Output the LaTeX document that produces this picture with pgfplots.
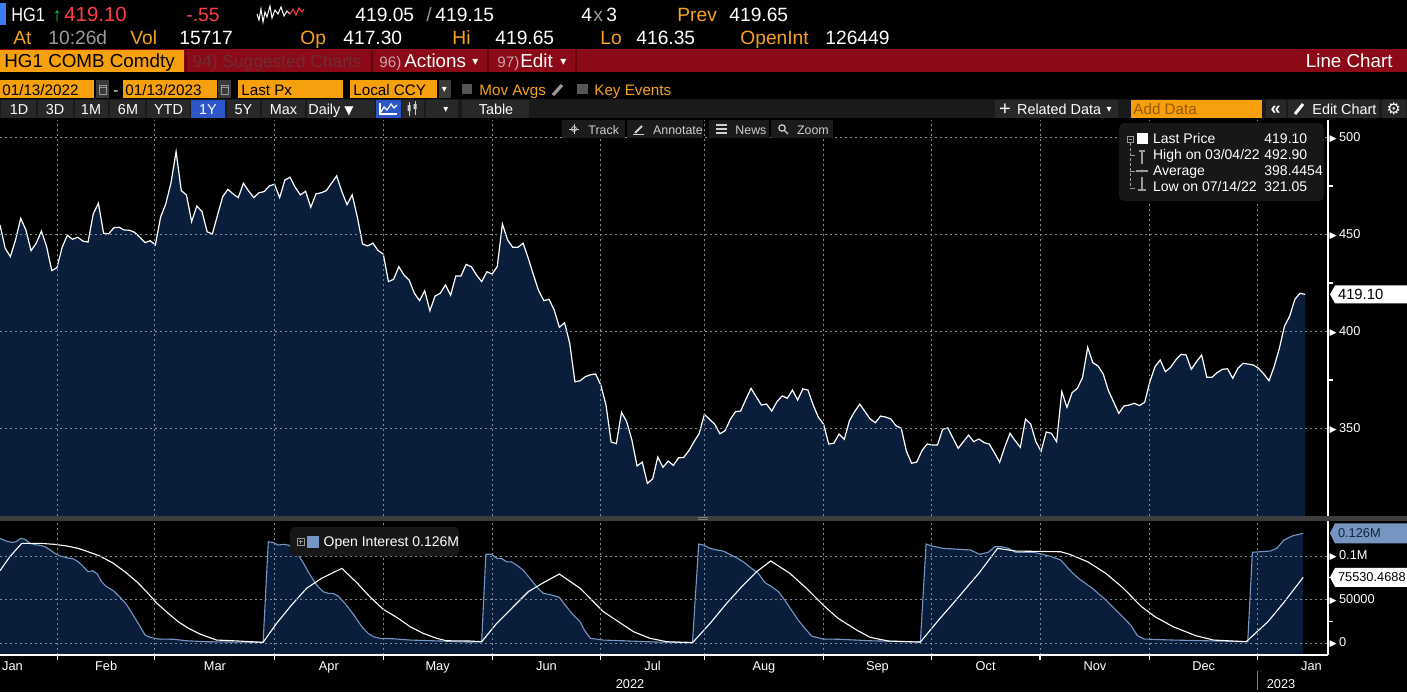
\documentclass[border=0pt]{standalone}
\usepackage{fontspec}
\setmainfont{Liberation Sans}
\newfontfamily\dejavu{DejaVu Sans}
\usepackage{pgfplots}
\pgfplotsset{compat=1.18}
\usepackage{pgfplotstable}

\definecolor{bbora}{HTML}{F5A31A}
\definecolor{bbbox}{HTML}{F5A00C}
\definecolor{bbred}{HTML}{8C0A18}
\definecolor{bbrtxt}{HTML}{FF3D48}
\definecolor{bbgrn}{HTML}{22CC44}
\definecolor{bbgray}{HTML}{9A9A9A}
\definecolor{bbblue}{HTML}{3D7BF0}
\definecolor{navyfill}{HTML}{0A1E3B}
\definecolor{oiline}{HTML}{7695C0}
\definecolor{gridc}{HTML}{7F8C9A}
\definecolor{barbg}{HTML}{1A1A1A}
\definecolor{btnbg}{HTML}{282828}
\definecolor{selblue}{HTML}{2F56C9}
\definecolor{legbg}{HTML}{171717}
\definecolor{sepc}{HTML}{3E3E3E}
\definecolor{dimred}{HTML}{6E2C35}
\definecolor{pinkgray}{HTML}{C9A3A8}
\definecolor{adddata}{HTML}{9A5A00}
\definecolor{oitagtxt}{HTML}{0E2340}
\definecolor{sepdark}{HTML}{62060F}
\definecolor{iconbg}{HTML}{3A3A3A}
\definecolor{chk}{HTML}{555555}
\definecolor{tbbg}{HTML}{1B1B1B}
\definecolor{tbtxt}{HTML}{CFCFCF}
\definecolor{lgicon}{HTML}{9A9A9A}

\newcommand\fA{\fontsize{9.6}{11}\selectfont}
\newcommand\fB{\fontsize{9.4}{11}\selectfont}
\newcommand\fC{\fontsize{7.6}{9}\selectfont}
\newcommand\fD{\fontsize{7.2}{8}\selectfont}
\newcommand\fE{\fontsize{6.4}{7}\selectfont}
\newcommand\fL{\fontsize{7}{8}\selectfont}
\newcommand\fT{\fontsize{6.2}{7}\selectfont}
\newcommand\tri{{\dejavu\fontsize{4.6}{5}\selectfont ▶}\kern1.2pt}
\newcommand{\tx}[5][base west]{\node[anchor=#1,inner sep=0pt,text=#2,font=#3] at (#4) {#5};}
% value tag with a pointed left side, drawn at a named coordinate
\newcommand{\tag}[6][\fE]{%
  \fill[#3] ([xshift=1pt]#2) -- ([xshift=3.5pt,yshift=#4]#2) -- ([xshift=40pt,yshift=#4]#2)
    -- ([xshift=40pt,yshift=-#4]#2) -- ([xshift=3.5pt,yshift=-#4]#2) -- cycle;
  \node[anchor=west, inner sep=0pt, font=#1, text=#5] at ([xshift=4.8pt]#2) {#6};}

% HG1 last price, trading day index
\pgfplotstableread{
d p
0 454.9
1 442.9
2 438.6
3 447.2
4 458.3
5 452.3
6 441.7
7 445.5
8 451.8
9 443.7
10 431.4
11 432.9
12 443.4
13 449.6
14 447.5
15 448.6
16 446.6
17 446.1
18 460.6
19 466.1
20 450.6
21 450.4
22 453.5
23 453.7
24 452.3
25 452.2
26 451.1
27 448.6
28 445.8
29 446.8
30 444.6
31 458.9
32 465.7
33 476.4
34 492.7
35 472.6
36 470.4
37 456.6
38 464.7
39 461.8
40 451.4
41 450.3
42 460.0
43 469.5
44 473.3
45 470.9
46 469.0
47 476.4
48 472.4
49 469.0
50 471.5
51 472.1
52 475.0
53 475.9
54 469.0
55 478.1
56 479.5
57 474.3
58 470.4
59 472.3
60 464.0
61 470.9
62 471.5
63 472.6
64 476.4
65 480.2
66 472.1
67 465.4
68 470.4
69 458.9
70 445.1
71 444.1
72 445.5
73 441.7
74 439.9
75 425.7
76 426.9
77 433.4
78 429.1
79 426.5
80 419.7
81 415.9
82 421.0
83 410.7
84 418.3
85 419.7
86 424.0
87 418.7
88 428.6
89 428.6
90 434.6
91 433.4
92 429.1
93 425.7
94 430.8
95 429.6
96 433.4
97 455.4
98 447.2
99 443.4
100 443.4
101 445.5
102 437.7
103 429.1
104 421.0
105 415.9
106 416.6
107 411.1
108 402.2
109 404.5
110 393.9
111 374.1
112 374.6
113 376.7
114 377.7
115 378.1
116 372.4
117 362.1
118 343.0
119 342.2
120 358.4
121 353.5
122 344.1
123 330.7
124 332.7
125 321.7
126 324.0
127 335.3
128 330.0
129 333.2
130 331.0
131 334.9
132 335.1
133 338.6
134 343.2
135 347.5
136 357.3
137 354.7
138 352.2
139 347.3
140 348.9
141 354.7
142 358.7
143 359.0
144 365.0
145 370.7
146 366.4
147 362.1
148 362.6
149 359.0
150 363.8
151 366.8
152 365.6
153 369.8
154 364.7
155 370.4
156 369.8
157 362.1
158 355.8
159 352.3
160 342.0
161 342.4
162 347.2
163 344.4
164 354.0
165 358.7
166 362.6
167 358.7
168 354.9
169 353.0
170 356.4
171 355.9
172 354.9
173 351.4
174 350.1
175 338.3
176 332.1
177 332.7
178 338.6
179 342.0
180 341.5
181 341.5
182 349.6
183 350.3
184 345.0
185 339.8
186 343.2
187 346.6
188 343.2
189 344.6
190 342.7
191 342.0
192 337.5
193 332.6
194 340.6
195 347.5
196 343.7
197 340.3
198 354.9
199 352.3
200 343.2
201 338.3
202 348.2
203 347.5
204 343.2
205 369.0
206 360.9
207 368.5
208 370.7
209 376.2
210 391.8
211 383.9
212 382.2
213 378.1
214 369.5
215 363.8
216 357.8
217 361.6
218 362.1
219 363.0
220 361.8
221 363.5
222 374.1
223 381.9
224 385.3
225 379.3
226 381.5
227 385.3
228 388.2
229 387.9
230 380.5
231 384.4
232 387.9
233 376.4
234 376.4
235 378.8
236 380.5
237 380.8
238 375.9
239 381.0
240 383.6
241 383.2
242 382.7
243 381.0
244 378.1
245 374.6
246 381.9
247 391.3
248 402.8
249 407.9
250 416.6
251 419.7
252 419.1
}\pricedata

% open interest
\pgfplotstableread{
d oi
0 120300
1.0 117600
2.3 115700
3.1 116400
4.0 120300
4.8 119200
5.8 114600
6.8 113000
7.7 112300
8.7 110700
9.7 106900
10.6 103100
11.6 100000
12.9 98000
14.2 96600
15.1 93400
16.1 87700
17.0 82000
17.9 83100
18.8 79300
19.6 70500
20.6 64700
21.9 60100
23.2 52500
24.5 43700
25.7 32200
27.0 19500
28.0 9200
29.0 6500
30.6 4600
33.5 4300
36.0 2600
39.9 1500
45.0 1100
50.8 800
51.8 116400
52.8 115300
53.7 112600
54.7 113400
55.7 112600
56.6 108800
57.6 101100
58.6 91600
59.5 82000
60.5 72400
61.4 64700
62.4 59000
63.4 57100
64.3 57100
65.3 54000
66.3 47500
67.2 41000
68.2 33300
69.2 24500
70.1 16900
71.1 11100
72.1 7200
73.4 5400
75.9 4900
79.2 3400
83.6 2600
90.7 1100
93.0 1500
93.8 102000
94.9 102000
95.9 97400
96.9 96900
97.8 93400
98.8 93100
99.7 89700
101.0 83900
102.3 74400
103.6 64700
104.9 57100
106.5 55200
108.0 52500
109.1 43700
110.4 34100
112.0 24500
112.9 14100
114.0 5400
116.5 3400
120.3 2600
126.8 1100
133.7 800
134.9 113800
135.8 112600
137.1 108800
138.4 106900
139.6 105700
140.9 102000
142.2 98000
143.5 93400
145.1 85800
146.4 80100
147.7 69300
149.0 64700
150.3 59000
151.5 49400
152.8 37900
154.1 26400
155.4 16900
156.7 8000
158.9 4600
162.2 4300
168.0 2600
177.7 1100
178.8 113800
179.9 111500
182.1 108800
187.4 106900
189.1 102000
190.8 104300
192.1 110700
193.4 110700
194.7 108800
196.1 104300
199.5 104300
201.3 102000
203.0 99200
204.8 95400
206.5 83900
208.2 74400
210.9 62900
213.5 49400
216.1 34100
218.3 20700
219.6 8400
220.9 4600
226.5 3400
235.2 2300
240.9 1500
241.8 104300
245.2 105700
246.5 108800
247.9 118400
249.6 123300
251.6 126100
}\oidata

% white line in the open interest panel
\pgfplotstableread{
d v
0 83100
1.9 99200
4.2 114600
7.7 114600
10.6 113400
12.9 111500
15.1 108800
17.0 104900
19.3 100000
21.9 91600
24.1 82000
26.4 70500
28.3 59000
30.3 45600
32.5 34100
34.4 24500
36.4 16900
38.6 10300
41.8 3400
45.0 2600
50.8 800
53.4 22600
56.3 43700
59.2 62900
62.1 74400
66.0 85800
68.9 69300
71.4 53200
74.0 38700
76.6 29500
79.2 18700
81.7 11100
84.3 5400
86.2 2600
90.7 2300
93.0 1500
95.9 22600
99.1 41700
102.0 59000
104.9 69300
108.0 79300
112.0 62900
116.5 36000
119.4 24500
122.3 13000
125.5 5400
128.7 1500
133.7 300
137.1 22600
140.3 45600
143.2 64700
146.1 82000
148.8 94300
152.5 80100
155.7 62900
158.9 43700
161.8 28400
165.4 14900
168.0 6500
171.5 2300
177.7 1100
181.5 28400
183.9 44700
189.1 81000
192.6 108800
196.1 105700
204.8 104900
206.5 102000
210.0 93400
213.5 80100
216.9 62900
220.4 41700
223.0 30200
226.5 18700
230.9 8400
234.3 3400
240.6 1500
244.8 24500
247.9 46800
251.6 75500
}\oiwhite

\begin{document}
\begin{tikzpicture}
\useasboundingbox (0,0) rectangle (703.5pt,-346pt);
\fill[black] (0,0) rectangle (703.5pt,-346pt);

% price panel
\begin{axis}[
  at={(0pt,-258pt)}, anchor=south west,
  scale only axis, width=664pt, height=198pt,
  xmin=0, xmax=256.4, ymin=304.9, ymax=509,
  axis x line*=bottom, axis y line*=right,
  x axis line style={draw=none},
  y axis line style={white, line width=0.6pt},
  xtick={11.1,29.9,53.0,74.0,95.1,115.9,136.0,159.0,179.8,200.8,221.9,242.8},
  xticklabels={},
  ytick={350,400,450,500},
  yticklabels={\tri350,\tri400,\tri450,\tri500},
  minor ytick={375,425,475},
  xmajorgrids=true, ymajorgrids=true,
  grid style={gridc, line width=0.4pt, dash pattern=on 1pt off 1.5pt},
  major tick length=0pt, minor tick length=2.3pt,
  tick style={white, line width=0.6pt},
  tick align=outside,
  yticklabel style={anchor=west, inner sep=0pt, xshift=0.6pt, font=\fE, text=white},
  axis on top, clip=false,
]
\addplot[fill=navyfill, draw=none] table[x=d, y=p] {\pricedata}
  -- (axis cs:252,304.9) -- (axis cs:0,304.9) -- cycle;
\addplot[white, line width=0.6pt] table[x=d, y=p] {\pricedata};
\coordinate (ptag) at (axis cs:256.4,419.1);
\end{axis}

% open interest panel
\begin{axis}[
  at={(0pt,-327.5pt)}, anchor=south west,
  scale only axis, width=664pt, height=67pt,
  xmin=0, xmax=256.4, ymin=-13793, ymax=140230,
  axis x line*=bottom, axis y line*=right,
  axis line style={white, line width=0.6pt},
  xtick={2.4,20.5,41.5,63.5,84.5,105.5,126,147.5,169.4,190.3,211.4,232.4,253.2},
  xticklabels={Jan,Feb,Mar,Apr,May,Jun,Jul,Aug,Sep,Oct,Nov,Dec,Jan},
  minor xtick={11.1,29.9,53.0,74.0,95.1,115.9,136.0,159.0,179.8,200.8,221.9,242.8},
  ytick={0,50000,100000},
  yticklabels={\tri0,\tri50000,\tri0.1M},
  minor ytick={25000,75000},
  scaled y ticks=false,
  xminorgrids=true, ymajorgrids=true,
  grid style={gridc, line width=0.4pt, dash pattern=on 1pt off 1.5pt},
  minor grid style={gridc, line width=0.4pt, dash pattern=on 1pt off 1.5pt},
  major tick length=0pt, minor tick length=2.3pt,
  tick style={white, line width=0.6pt},
  tick align=outside,
  xticklabel style={anchor=base, yshift=-7.5pt, inner sep=0pt, font=\fE, text=white},
  yticklabel style={anchor=west, inner sep=0pt, xshift=0.6pt, font=\fE, text=white},
  axis on top, clip=false,
]
\addplot[fill=navyfill, draw=none] table[x=d, y=oi] {\oidata}
  -- (axis cs:251.6,-13793) -- (axis cs:0,-13793) -- cycle;
\addplot[oiline, line width=0.55pt] table[x=d, y=oi] {\oidata};
\addplot[white, line width=0.55pt] table[x=d, y=v] {\oiwhite};
\coordinate (oitag) at (axis cs:256.4,126100);
\coordinate (wtag) at (axis cs:256.4,75530);
\end{axis}

% value tags on the right axes
\tag[\fontsize{7.4}{8}\selectfont]{ptag}{white}{4.5pt}{black}{419.10}
\tag{oitag}{oiline}{5pt}{oitagtxt}{0.126M}
\tag{wtag}{white}{4.75pt}{black}{75530.4688}

\begin{scope}[x=0.5pt, y=-0.5pt]
% row 1
\fill[bbblue] (0,3) rectangle (6,25);
\tx{white}{\fA}{11,21}{\scalebox{0.85}[1]{HG1}}
\tx{bbgrn}{\fA}{52,21}{↑}
\tx{bbrtxt}{\fontsize{10.2}{11}\selectfont}{64,21}{419.10}
\tx{bbrtxt}{\fA}{186,21}{-.55}
\draw[white, line width=0.5pt] (257,14)--(259,20)--(261,9)--(263,22)--(265,12)--(267,17)--(270,6)--(272,18)--(275,10)--(278,14)--(281,7)--(284,16)--(287,11)--(290,14);
\draw[bbrtxt, line width=0.5pt] (290,14)--(293,9)--(296,15)--(299,8)--(302,12)--(304,9);
\tx{white}{\fA}{355,21}{419.05}
\tx{bbgray}{\fA}{426,21}{/}
\tx{white}{\fA}{435,21}{419.15}
\tx{white}{\fA}{581,21}{4}
\tx{bbgray}{\fA}{593,21}{x}
\tx{white}{\fA}{606,21}{3}
\tx{bbora}{\fA}{677,21}{Prev}
\tx{white}{\fA}{729,21}{419.65}
% row 2
\tx{bbora}{\fA}{13,44}{At}
\tx{bbgray}{\fA}{48,44}{10:26d}
\tx{bbora}{\fA}{130,44}{Vol}
\tx{white}{\fA}{179,44}{15717}
\tx{bbora}{\fA}{300,44}{Op}
\tx{white}{\fA}{343,44}{417.30}
\tx{bbora}{\fA}{452,44}{Hi}
\tx{white}{\fA}{495,44}{419.65}
\tx{bbora}{\fA}{600,44}{Lo}
\tx{white}{\fA}{636,44}{416.35}
\tx{bbora}{\fA}{740,44}{OpenInt}
\tx{white}{\fA}{825,44}{126449}
% row 3 red bar
\fill[bbred] (0,49) rectangle (1407,72);
\fill[bbbox] (0,50) rectangle (184,72);
\tx{black}{\fB}{4,67}{HG1 COMB Comdty}
\tx{dimred}{\fontsize{8.7}{10}\selectfont}{192,67}{94) Suggested Charts}
\foreach \xx in {186,372,488,576} \draw[sepdark, line width=1pt] (\xx,49)--(\xx,72);
\tx{pinkgray}{\fontsize{7.6}{9}\selectfont}{379,67}{96)}
\tx{white}{\fB}{404,67}{Actions}
\tx{white}{\dejavu\fontsize{6}{7}\selectfont}{472,65}{▾}
\tx{pinkgray}{\fontsize{7.6}{9}\selectfont}{497,67}{97)}
\tx{white}{\fB}{520,67}{Edit}
\tx{white}{\dejavu\fontsize{6}{7}\selectfont}{560,65}{▾}
\tx[base east]{white}{\fB}{1393,67}{Line Chart}
% row 4
\fill[bbbox] (0,80) rectangle (94,98);
\tx{black}{\fC}{2,95}{01/13/2022}
\fill[iconbg] (96,80) rectangle (109,98);
\draw[bbgray, line width=0.5pt] (99,85) rectangle (106,94) (99,87.5)--(106,87.5);
\tx{white}{\fC}{113,95}{-}
\fill[bbbox] (123,80) rectangle (217,98);
\tx{black}{\fC}{125,95}{01/13/2023}
\fill[iconbg] (218,80) rectangle (231,98);
\draw[bbgray, line width=0.5pt] (221,85) rectangle (228,94) (221,87.5)--(228,87.5);
\fill[bbbox] (238,80) rectangle (343,98);
\tx{black}{\fC}{241,95}{Last Px}
\fill[bbbox] (350,80) rectangle (437,98);
\tx{black}{\fC}{353,95}{Local CCY}
\fill[iconbg] (438.5,80) rectangle (450.5,98);
\tx[base]{white}{\dejavu\fontsize{5}{6}\selectfont}{444.5,92}{▾}
\fill[chk] (462,84) rectangle (472,94);
\tx{bbora}{\fC}{479,95}{Mov Avgs}
\draw[bbgray, line width=1.6pt] (553,95)--(562,85);
\fill[chk] (577,84) rectangle (588,94);
\tx{bbora}{\fC}{594,95}{Key Events}
% row 5
\fill[barbg] (0,98.5) rectangle (1407,118);
\foreach \a/\b in {1/36,38/72.5,74.5/108,110/145,147/189.5,227/260,262/305,307/374.5,402/424,426/458,462/529,995/1118,1265.7/1285.7,1287.7/1379.3,1381.7/1405.7}
  \fill[btnbg] (\a,99.5) rectangle (\b,117.5);
\fill[selblue] (191,99.5) rectangle (225,117.5);
\fill[selblue] (376,99.5) rectangle (400.5,117.5);
\fill[bbbox] (1130.7,99.5) rectangle (1262.3,117.5);
\tx[base]{white}{\fD}{19,114}{1D}
\tx[base]{white}{\fD}{55,114}{3D}
\tx[base]{white}{\fD}{91,114}{1M}
\tx[base]{white}{\fD}{128,114}{6M}
\tx[base]{white}{\fD}{168.5,114}{YTD}
\tx[base]{white}{\fD}{208,114}{1Y}
\tx[base]{white}{\fD}{243.5,114}{5Y}
\tx[base]{white}{\fD}{283.5,114}{Max}
\tx[base]{white}{\fD}{331,114}{Daily {\dejavu\fontsize{6}{7}\selectfont ▼}}
\draw[white, line width=0.6pt] (380,103)--(380,114)--(397,114);
\draw[white, line width=0.6pt] (381,112)--(384,107)--(387,110)--(391,104)--(394,108)--(397,105);
\draw[tbtxt, line width=0.5pt] (409,102)--(409,116) (415,101)--(415,115);
\fill[tbtxt] (407.5,105) rectangle (410.5,111) (413.5,104) rectangle (416.5,109);
\tx[base]{white}{\dejavu\fontsize{5}{6}\selectfont}{446,112}{▾}
\tx[base]{white}{\fD}{496,114}{Table}
\tx[base]{white}{\fontsize{10}{11}\selectfont}{1005,115}{+}
\tx{white}{\fD}{1016.7,114}{Related Data}
\tx[base]{white}{\dejavu\fontsize{5}{6}\selectfont}{1109,112}{▾}
\tx{adddata}{\fontsize{7.6}{9}\selectfont}{1133,114.5}{Add Data}
\tx[base]{white}{\fontsize{9}{10}\selectfont\bfseries}{1275.7,114.5}{«}
\draw[white, line width=1.5pt] (1295,114)--(1303,104);
\tx{white}{\fD}{1312,114}{Edit Chart}
\tx[base]{white}{\dejavu\fontsize{8}{9}\selectfont}{1393.7,114.5}{⚙}
% chart toolbar
\foreach \a/\b in {561.7/625,627/703,708.7/769,771/832.7}
  \fill[tbbg] (\a,120) rectangle (\b,138);
\draw[tbtxt, line width=0.4pt] (569,129)--(579,129) (574,124)--(574,134);
\draw[tbtxt, line width=0.4pt] (574,129) circle (2.5);
\draw[tbtxt, line width=0.9pt] (635,133)--(642,126);
\draw[tbtxt, line width=0.4pt] (633,134.5)--(644,134.5);
\draw[tbtxt, line width=0.6pt] (716,125)--(727,125) (716,129)--(727,129) (716,133)--(727,133);
\draw[tbtxt, line width=0.6pt] (782,128) circle (3.2) (784.5,130.5)--(788,134);
\tx{tbtxt}{\fT}{588,134}{Track}
\tx{tbtxt}{\fT}{652.7,134}{Annotate}
\tx{tbtxt}{\fT}{735,134}{News}
\tx{tbtxt}{\fT}{796.7,134}{Zoom}
% price legend
\fill[legbg, rounded corners=2.5pt] (1119,123) rectangle (1324,201);
\draw[lgicon, line width=0.5pt] (1127,136) rectangle (1133,142) (1128.5,139)--(1131.5,139);
\fill[white] (1136.5,132.5) rectangle (1147.5,143.5);
\draw[lgicon, line width=0.5pt, dash pattern=on 1.5pt off 1pt] (1130,143)--(1130,188);
\draw[lgicon, line width=0.5pt] (1130,155)--(1135,155) (1130,171)--(1135,171) (1130,188)--(1135,188);
\draw[lgicon, line width=0.6pt] (1139,151)--(1145,151) (1142,151)--(1142,164);
\draw[lgicon, line width=0.6pt] (1136,171)--(1148,171);
\fill[lgicon] (1142,171) circle (1.6);
\draw[lgicon, line width=0.6pt] (1142,177)--(1142,189) (1138,190)--(1146,190);
\tx{white}{\fL}{1152.7,143.3}{Last Price}
\tx{white}{\fL}{1264,143.3}{419.10}
\tx{white}{\fL}{1152.7,159.3}{High on 03/04/22}
\tx{white}{\fL}{1264,159.3}{492.90}
\tx{white}{\fL}{1152.7,175.5}{Average}
\tx{white}{\fL}{1264,175.5}{398.4454}
\tx{white}{\fL}{1152.7,191.7}{Low on 07/14/22}
\tx{white}{\fL}{1264,191.7}{321.05}
% panel separator
\fill[sepc] (0,516) rectangle (1407,520.5);
\draw[gray, line width=0.5pt] (698,517.3)--(708,517.3) (698,519.2)--(708,519.2);
% open interest legend
\fill[legbg, rounded corners=2.5pt] (290,527) rectangle (459,556);
\draw[lgicon, line width=0.5pt] (297,538) rectangle (304,545) (298.5,541.5)--(302.5,541.5) (300.5,539.5)--(300.5,543.5);
\fill[oiline] (306.5,535.5) rectangle (319,547.5);
\tx{white}{\fL}{323.3,546.5}{Open Interest 0.126M}
% years
\tx[base]{white}{\fE}{630,688}{2022}
\tx[base]{white}{\fE}{1281,688}{2023}
\draw[gray, line width=0.5pt] (1257.5,671)--(1257.5,690);
\end{scope}
\end{tikzpicture}
\end{document}
